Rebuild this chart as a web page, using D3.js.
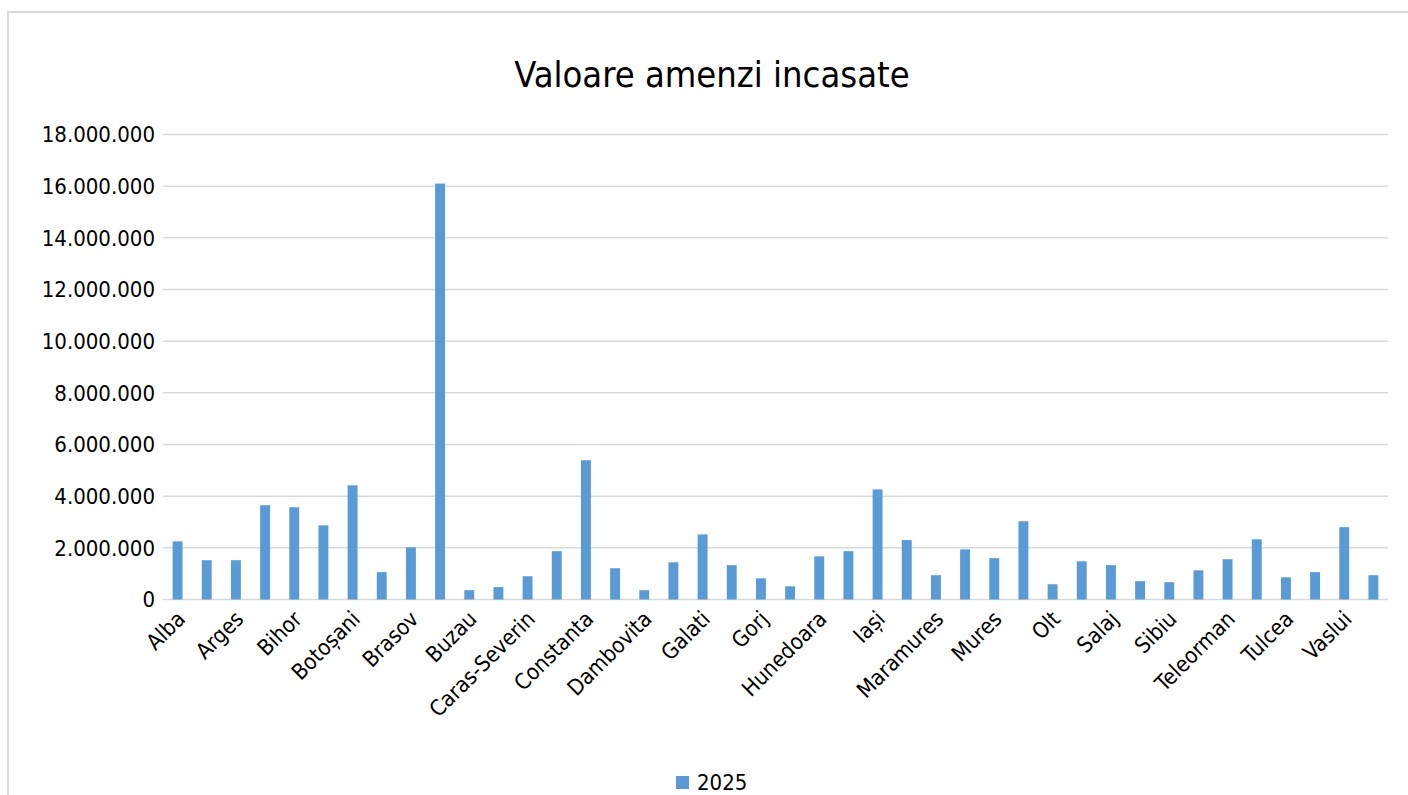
<!DOCTYPE html>
<html><head><meta charset="utf-8">
<script src="https://cdn.jsdelivr.net/npm/d3@7"></script>
<style>html,body{margin:0;padding:0;background:#fff;overflow:hidden}</style>
</head><body>
<svg id="c" width="1408" height="795"></svg>
<script>
const categories = ["Alba","Arad","Arges","Bacau","Bihor","Bistrita-Nasaud","Botoșani","Braila","Brasov","Bucuresti",
"Buzau","Calarasi","Caras-Severin","Cluj","Constanta","Covasna","Dambovita","Dolj","Galati","Giurgiu",
"Gorj","Harghita","Hunedoara","Ialomita","Iași","Ilfov","Maramures","Mehedinti","Mures","Neamt",
"Olt","Prahova","Salaj","Satu Mare","Sibiu","Suceava","Teleorman","Timis","Tulcea","Valcea","Vaslui","Vrancea"];
const values2025 = [2250000,1520000,1520000,3650000,3570000,2870000,4420000,1060000,2020000,16100000,
360000,480000,900000,1870000,5390000,1210000,360000,1440000,2520000,1330000,
820000,510000,1670000,1870000,4260000,2300000,940000,1940000,1600000,3030000,
590000,1480000,1330000,710000,670000,1130000,1560000,2330000,860000,1060000,2800000,940000];
const yTicks = [0,2000000,4000000,6000000,8000000,10000000,12000000,14000000,16000000,18000000];
const seriesName = "2025";
const title = "Valoare amenzi incasate";

const svg = d3.select("#c");
const font = "'DejaVu Sans Condensed', 'DejaVu Sans', sans-serif";
svg.append("rect").attr("x",8).attr("y",12).attr("width",1500).attr("height",900)
  .attr("fill","#fff").attr("stroke","#d9d9d9").attr("stroke-width",2);

const m = {left:163, right:1388, top:134.5, bottom:599.5};
const x = d3.scaleBand().domain(categories).range([m.left,m.right]).paddingInner(0.66).paddingOuter(0.33);
const y = d3.scaleLinear().domain([0,18000000]).range([m.bottom,m.top]);
const fmt = v => d3.format(",")(v).replace(/,/g,".");

svg.append("g").selectAll("line").data(yTicks).join("line")
  .attr("x1",m.left).attr("x2",m.right).attr("y1",d=>y(d)).attr("y2",d=>y(d))
  .attr("stroke","#d9d9d9").attr("stroke-width",1.5);

svg.append("g").selectAll("text").data(yTicks).join("text")
  .attr("x",155).attr("y",d=>y(d)).attr("dy","0.36em").attr("text-anchor","end")
  .attr("font-family",font).attr("font-size",22).attr("fill","#000").text(fmt);

svg.append("g").selectAll("rect").data(values2025).join("rect")
  .attr("x",(d,i)=>x(categories[i])).attr("width",x.bandwidth())
  .attr("y",d=>y(d)).attr("height",d=>y(0)-y(d)).attr("fill","#5b9bd5");

svg.append("g").selectAll("text").data(categories.filter((c,i)=>i%2===0)).join("text")
  .attr("transform",d=>`translate(${x(d)+x.bandwidth()/2-2},${m.bottom+10}) rotate(-45)`)
  .attr("text-anchor","end").attr("dy","0.7em")
  .attr("font-family",font).attr("font-size",22).attr("fill","#000").text(d=>d);

svg.append("text").attr("x",712).attr("y",87).attr("text-anchor","middle")
  .attr("font-family",font).attr("font-size",36).attr("fill","#000").text(title);

const lg = svg.append("g");
lg.append("rect").attr("x",676).attr("y",776).attr("width",13).attr("height",13).attr("fill","#5b9bd5");
lg.append("text").attr("x",697).attr("y",790).attr("font-family",font).attr("font-size",22).attr("fill","#000").text(seriesName);
</script>
</body></html>
